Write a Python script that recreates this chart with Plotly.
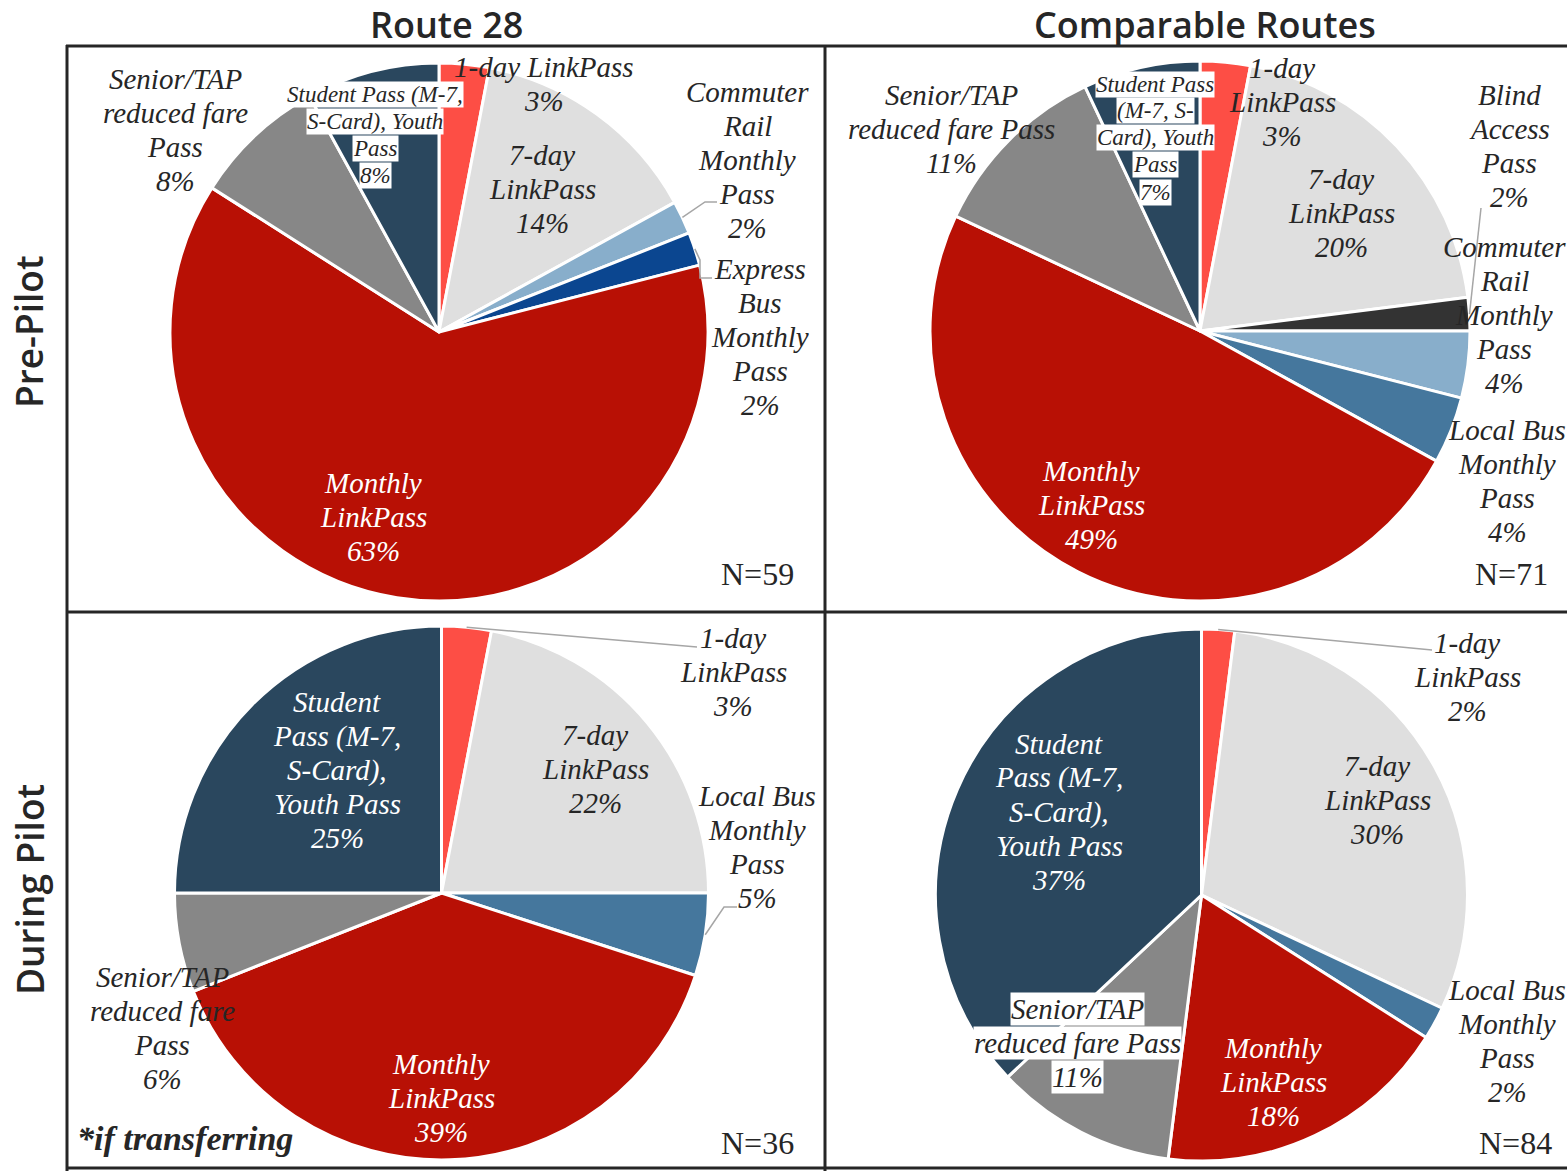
import math
import plotly.graph_objects as go

W, H = 1567, 1171

# ---------------- data ----------------
col_titles = ["Route 28", "Comparable Routes"]
row_titles = ["Pre-Pilot", "During Pilot"]

pre_r28_labels = ["1-day LinkPass", "7-day LinkPass", "Commuter Rail Monthly Pass",
                  "Express Bus Monthly Pass", "Monthly LinkPass",
                  "Senior/TAP reduced fare Pass", "Student Pass (M-7, S-Card), Youth Pass"]
pre_r28_values = [3, 14, 2, 2, 63, 8, 8]

pre_comp_labels = ["1-day LinkPass", "7-day LinkPass", "Blind Access Pass",
                   "Commuter Rail Monthly Pass", "Local Bus Monthly Pass", "Monthly LinkPass",
                   "Senior/TAP reduced fare Pass", "Student Pass (M-7, S-Card), Youth Pass"]
pre_comp_values = [3, 20, 2, 4, 4, 49, 11, 7]

dur_r28_labels = ["1-day LinkPass", "7-day LinkPass", "Local Bus Monthly Pass",
                  "Monthly LinkPass", "Senior/TAP reduced fare Pass",
                  "Student Pass (M-7, S-Card), Youth Pass"]
dur_r28_values = [3, 22, 5, 39, 6, 25]

dur_comp_labels = list(dur_r28_labels)
dur_comp_values = [2, 30, 2, 18, 11, 37]

sample_sizes = [59, 71, 36, 84]
footnote = "*if transferring"

# ---------------- styles ----------------
COLORS = {
    "1-day LinkPass": "#FD4E45",
    "7-day LinkPass": "#DFDFDF",
    "Blind Access Pass": "#333333",
    "Commuter Rail Monthly Pass": "#88AECB",
    "Express Bus Monthly Pass": "#0B4690",
    "Local Bus Monthly Pass": "#45779D",
    "Monthly LinkPass": "#B81005",
    "Senior/TAP reduced fare Pass": "#878787",
    "Student Pass (M-7, S-Card), Youth Pass": "#2A475E",
}
DARK = "#262626"
SERIF = "Liberation Serif, DejaVu Serif, serif"
SANS = "Open Sans, Inter, DejaVu Sans, sans-serif"

def px(x):
    return x / W

def py(y):
    return 1 - y / H

# pie geometry in pixels: center x, center y, radius
geom = [(439, 332, 269), (1200, 331, 270), (441.5, 893, 267), (1201.5, 895, 266)]

pies = [
    (pre_r28_labels, pre_r28_values),
    (pre_comp_labels, pre_comp_values),
    (dur_r28_labels, dur_r28_values),
    (dur_comp_labels, dur_comp_values),
]

# label layout: category -> (wrapped lines, cx, cy, style)
label_layout = [
    {
        "1-day LinkPass": (["1-day LinkPass"], 544, 84, "dark"),
        "7-day LinkPass": (["7-day", "LinkPass"], 542, 189, "dark"),
        "Commuter Rail Monthly Pass": (["Commuter", "Rail", "Monthly", "Pass"], 747, 160, "dark"),
        "Express Bus Monthly Pass": (["Express", "Bus", "Monthly", "Pass"], 760, 337, "dark"),
        "Monthly LinkPass": (["Monthly", "LinkPass"], 373, 517, "white"),
        "Senior/TAP reduced fare Pass": (["Senior/TAP", "reduced fare", "Pass"], 175, 130, "dark"),
        "Student Pass (M-7, S-Card), Youth Pass": (["Student Pass (M-7,", "S-Card), Youth", "Pass"], 375, 135, "small_bg"),
    },
    {
        "1-day LinkPass": (["1-day", "LinkPass"], 1282, 102, "dark"),
        "7-day LinkPass": (["7-day", "LinkPass"], 1341, 213, "dark"),
        "Blind Access Pass": (["Blind", "Access", "Pass"], 1509, 146, "dark"),
        "Commuter Rail Monthly Pass": (["Commuter", "Rail", "Monthly", "Pass"], 1504, 315, "dark"),
        "Local Bus Monthly Pass": (["Local Bus", "Monthly", "Pass"], 1507, 481, "dark"),
        "Monthly LinkPass": (["Monthly", "LinkPass"], 1091, 505, "white"),
        "Senior/TAP reduced fare Pass": (["Senior/TAP", "reduced fare Pass"], 951, 129, "dark"),
        "Student Pass (M-7, S-Card), Youth Pass": (["Student Pass", "(M-7, S-", "Card), Youth", "Pass"], 1155, 138, "small_bg"),
    },
    {
        "1-day LinkPass": (["1-day", "LinkPass"], 733, 672, "dark"),
        "7-day LinkPass": (["7-day", "LinkPass"], 595, 769, "dark"),
        "Local Bus Monthly Pass": (["Local Bus", "Monthly", "Pass"], 757, 847, "dark"),
        "Monthly LinkPass": (["Monthly", "LinkPass"], 441, 1098, "white"),
        "Senior/TAP reduced fare Pass": (["Senior/TAP", "reduced fare", "Pass"], 162, 1028, "dark"),
        "Student Pass (M-7, S-Card), Youth Pass": (["Student", "Pass (M-7,", "S-Card),", "Youth Pass"], 337, 770, "white"),
    },
    {
        "1-day LinkPass": (["1-day", "LinkPass"], 1467, 677, "dark"),
        "7-day LinkPass": (["7-day", "LinkPass"], 1377, 800, "dark"),
        "Local Bus Monthly Pass": (["Local Bus", "Monthly", "Pass"], 1507, 1041, "dark"),
        "Monthly LinkPass": (["Monthly", "LinkPass"], 1273, 1082, "white"),
        "Senior/TAP reduced fare Pass": (["Senior/TAP", "reduced fare Pass"], 1077, 1043, "bg"),
        "Student Pass (M-7, S-Card), Youth Pass": (["Student", "Pass (M-7,", "S-Card),", "Youth Pass"], 1059, 812, "white"),
    },
]

# leader line bends (pixels) after the slice edge point
leaders = [
    {"Commuter Rail Monthly Pass": [(705, 202), (717, 202)],
     "Express Bus Monthly Pass": [(700, 260), (700, 278), (712, 278)]},
    {"Blind Access Pass": [(1481, 208)]},
    {"1-day LinkPass": [(697, 647)],
     "Local Bus Monthly Pass": [(724, 907), (737, 907)]},
    {"1-day LinkPass": [(1432, 650)]},
]

n_pos = [(757, 574), (1511, 574), (757, 1143), (1515, 1143)]

fig = go.Figure()
annotations = []
shapes = []

def add_text(text, x, y, size, color, style="italic", weight="normal", bg=None,
             xanchor="center", family=SERIF, angle=0):
    d = dict(text=text, x=px(x), y=py(y), xref="paper", yref="paper",
             showarrow=False, xanchor=xanchor, yanchor="middle", textangle=angle,
             font=dict(family=family, size=size, color=color, style=style, weight=weight))
    if bg:
        d["bgcolor"] = bg
        d["borderpad"] = 0
    annotations.append(d)

for i, ((labels, values), (cx, cy, r)) in enumerate(zip(pies, geom)):
    fig.add_trace(go.Pie(
        labels=labels, values=values, sort=False, direction="clockwise", rotation=0,
        textinfo="none", hoverinfo="label+percent",
        marker=dict(colors=[COLORS[l] for l in labels], line=dict(color="white", width=3)),
        domain=dict(x=[px(cx - r), px(cx + r)], y=[py(cy + r), py(cy - r)]),
        showlegend=False,
    ))
    total = sum(values)
    cum = 0
    for lab, v in zip(labels, values):
        mid = (cum + v / 2) / total
        cum += v
        lines, lx, ly, style = label_layout[i][lab]
        lines = lines + [f"{round(100 * v / total)}%"]
        if style == "small_bg":
            size, sp, color, bg = 23, 27, DARK, "white"
        elif style == "bg":
            size, sp, color, bg = 29, 34, DARK, "white"
        elif style == "white":
            size, sp, color, bg = 29, 34, "white", None
        else:
            size, sp, color, bg = 29, 34, DARK, None
        n = len(lines)
        for k, t in enumerate(lines):
            add_text(t, lx, ly + (k - (n - 1) / 2) * sp, size, color, bg=bg)
        if lab in leaders[i]:
            ang = 2 * math.pi * mid
            sx, sy = cx + r * math.sin(ang), cy - r * math.cos(ang)
            pts = [(sx, sy)] + leaders[i][lab]
            path = "M " + " L ".join(f"{px(a):.5f},{py(b):.5f}" for a, b in pts)
            shapes.append(dict(type="path", path=path, xref="paper", yref="paper",
                               line=dict(color="#A6A6A6", width=1.5)))
    nx, ny = n_pos[i]
    add_text(f"N={sample_sizes[i]}", nx, ny, 32, DARK, style="normal")

# headers
add_text(col_titles[0], 447, 24, 36, DARK, style="normal", weight=600, family=SANS)
add_text(col_titles[1], 1205, 24, 36, DARK, style="normal", weight=600, family=SANS)
add_text(row_titles[0], 29, 332, 37, DARK, style="normal", weight=600, family=SANS, angle=-90)
add_text(row_titles[1], 29, 890, 37, DARK, style="normal", weight=600, family=SANS, angle=-90)
add_text(footnote, 75, 1138, 34, DARK, style="italic", weight="bold", xanchor="left")

# grid lines
GRID = dict(color="#262626", width=3)
for y in (46, 612, 1168):
    shapes.append(dict(type="line", xref="paper", yref="paper", x0=px(66), x1=px(W + 5),
                       y0=py(y), y1=py(y), line=GRID))
for x in (67, 825):
    shapes.append(dict(type="line", xref="paper", yref="paper", x0=px(x), x1=px(x),
                       y0=py(45), y1=py(H + 5), line=GRID))

fig.update_layout(
    width=W, height=H, margin=dict(l=0, r=0, t=0, b=0),
    paper_bgcolor="white", plot_bgcolor="white",
    annotations=annotations, shapes=shapes,
)

fig.write_html("out.html", config={"displayModeBar": False},
               post_script="document.body.style.margin='0';")
